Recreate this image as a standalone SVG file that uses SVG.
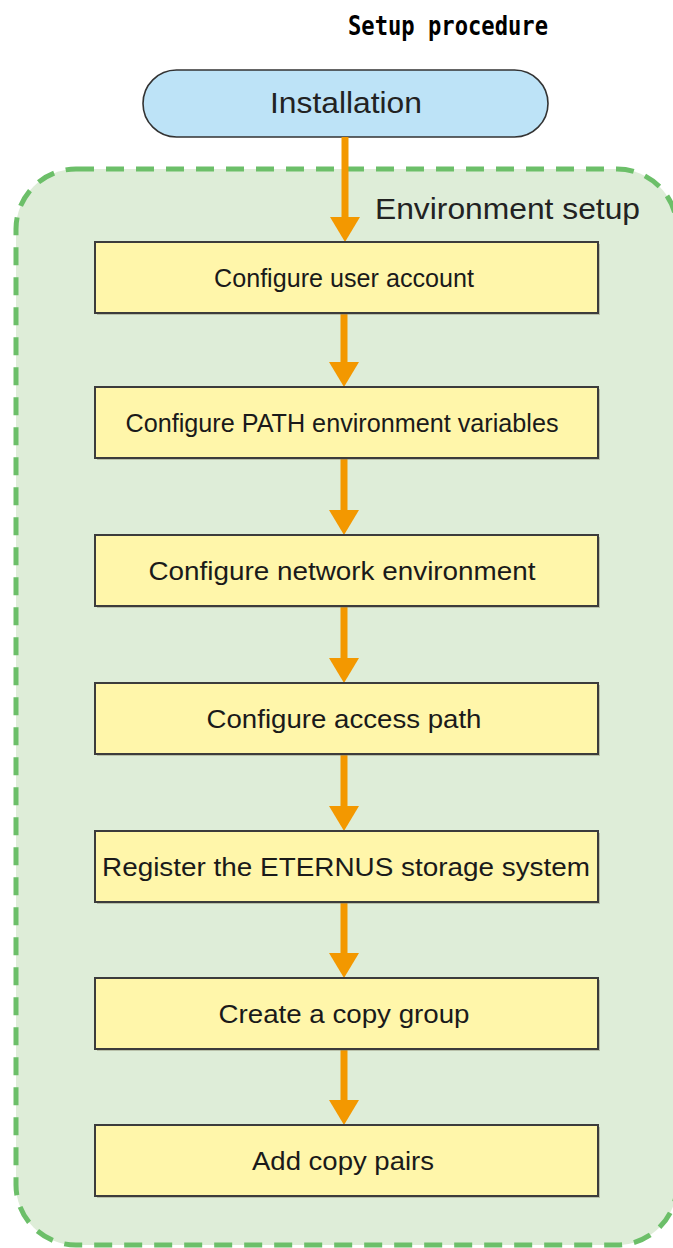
<svg xmlns="http://www.w3.org/2000/svg" width="673" height="1248" viewBox="0 0 673 1248">
  <defs>
    <style>
      .title { font-family: "DejaVu Sans Mono", "Liberation Mono", monospace; font-size: 27px; font-weight: bold; fill: #000; }
      .big { font-family: "Liberation Sans", Arial, sans-serif; fill: #222; }
      .step rect { fill: #fff6aa; stroke: #3c3c3c; stroke-width: 2; }
      .step .shadow { fill: #8a8a70; stroke: none; opacity: 0.45; }
      .step text { font-family: "Liberation Sans", Arial, sans-serif; font-size: 26px; fill: #1a1a1a; text-anchor: middle; }
      .flow line { stroke: #f39800; stroke-width: 7; }
      .flow polygon { fill: #f39800; }
    </style>
  </defs>

  <rect width="673" height="1248" fill="#ffffff"/>

  <!-- heading -->
  <text class="title" x="348" y="35" textLength="200" lengthAdjust="spacingAndGlyphs">Setup procedure</text>

  <!-- environment setup group -->
  <g id="env-setup">
    <rect x="16" y="169" width="661" height="1076" rx="60" ry="60" fill="#deedd8" stroke="#6cbf69" stroke-width="5" stroke-dasharray="18 12"/>
    <text class="big" x="375" y="219" font-size="30" textLength="265" lengthAdjust="spacingAndGlyphs">Environment setup</text>
  </g>

  <!-- start node -->
  <g id="installation">
    <rect x="143" y="70" width="405" height="67" rx="33.5" ry="33.5" fill="#bde3f7" stroke="#333333" stroke-width="1.6"/>
    <text class="big" x="346" y="113" font-size="29" text-anchor="middle" textLength="152" lengthAdjust="spacingAndGlyphs">Installation</text>
  </g>

  <!-- connectors -->
  <g id="connectors" class="flow">
    <line x1="345" y1="137" x2="345" y2="218"/>
    <polygon points="330,217 360,217 345,242"/>
    <line x1="344" y1="313" x2="344" y2="363"/>
    <polygon points="329,362 359,362 344,387"/>
    <line x1="344" y1="458" x2="344" y2="511"/>
    <polygon points="329,510 359,510 344,535"/>
    <line x1="344" y1="606" x2="344" y2="659"/>
    <polygon points="329,658 359,658 344,683"/>
    <line x1="344" y1="754" x2="344" y2="807"/>
    <polygon points="329,806 359,806 344,831"/>
    <line x1="344" y1="902" x2="344" y2="954"/>
    <polygon points="329,953 359,953 344,978"/>
    <line x1="344" y1="1049" x2="344" y2="1101"/>
    <polygon points="329,1100 359,1100 344,1125"/>
  </g>

  <!-- process steps -->
  <g id="step-user-account" class="step">
    <rect class="shadow" x="97" y="244" width="503" height="71"/>
    <rect x="95" y="242" width="503" height="71"/>
    <text x="344" y="287" textLength="260" lengthAdjust="spacingAndGlyphs">Configure user account</text>
  </g>
  <g id="step-path" class="step">
    <rect class="shadow" x="97" y="389" width="503" height="71"/>
    <rect x="95" y="387" width="503" height="71"/>
    <text x="342" y="432" textLength="433" lengthAdjust="spacingAndGlyphs">Configure PATH environment variables</text>
  </g>
  <g id="step-network" class="step">
    <rect class="shadow" x="97" y="537" width="503" height="71"/>
    <rect x="95" y="535" width="503" height="71"/>
    <text x="342" y="580" textLength="387" lengthAdjust="spacingAndGlyphs">Configure network environment</text>
  </g>
  <g id="step-access-path" class="step">
    <rect class="shadow" x="97" y="685" width="503" height="71"/>
    <rect x="95" y="683" width="503" height="71"/>
    <text x="344" y="728" textLength="275" lengthAdjust="spacingAndGlyphs">Configure access path</text>
  </g>
  <g id="step-register" class="step">
    <rect class="shadow" x="97" y="833" width="503" height="71"/>
    <rect x="95" y="831" width="503" height="71"/>
    <text x="346" y="876" textLength="488" lengthAdjust="spacingAndGlyphs">Register the ETERNUS storage system</text>
  </g>
  <g id="step-copy-group" class="step">
    <rect class="shadow" x="97" y="980" width="503" height="71"/>
    <rect x="95" y="978" width="503" height="71"/>
    <text x="344" y="1023" textLength="251" lengthAdjust="spacingAndGlyphs">Create a copy group</text>
  </g>
  <g id="step-copy-pairs" class="step">
    <rect class="shadow" x="97" y="1127" width="503" height="71"/>
    <rect x="95" y="1125" width="503" height="71"/>
    <text x="343" y="1170" textLength="182" lengthAdjust="spacingAndGlyphs">Add copy pairs</text>
  </g>
</svg>
